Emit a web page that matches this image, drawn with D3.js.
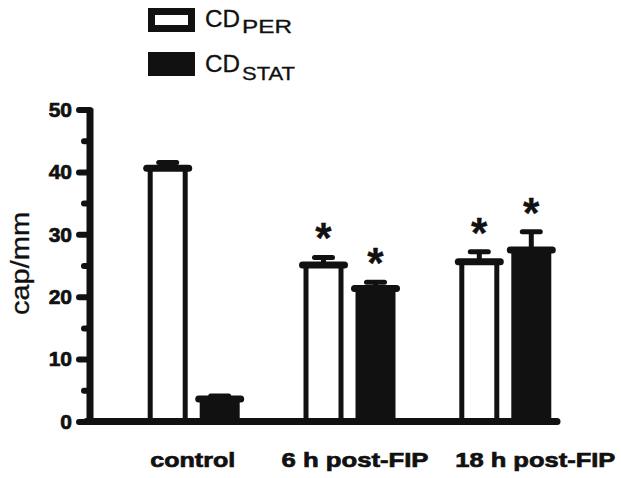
<!DOCTYPE html>
<html lang="en">
<head>
    <meta charset="UTF-8">
    <title>cap/mm bar chart</title>
    <script src="https://d3js.org/d3.v7.min.js"></script>
    <style>
        body { margin: 0; background: #fff; }
        text { font-family: "Liberation Sans", Arial, sans-serif; fill: #111; }
        .heavy { stroke: #111; stroke-width: 0.7px; }
        .soft { stroke: #111; stroke-width: 0.3px; }
    </style>
</head>
<body>
    <svg id="chart" width="621" height="478"></svg>
    <script>
        // data
        const groups = ["control", "6 h post-FIP", "18 h post-FIP"];
        const series = ["PER", "STAT"];
        const perMean = [40.6, 25.1, 25.6];
        const perErr = [0.9, 1.2, 1.6];
        const statMean = [3.6, 21.3, 27.5];
        const statErr = [0.5, 1.0, 2.9];
        const perStar = [false, true, true];
        const statStar = [false, true, true];
        const yTicks = [0, 10, 20, 30, 40, 50];
        const yMinor = [5, 15, 25, 35, 45];

        const ink = "#111";
        const svg = d3.select("#chart");

        // scales
        const y = d3.scaleLinear().domain([0, 50]).range([421.5, 109.5]);
        const x0 = d3.scaleBand().domain(groups).range([115.8, 583.2]).padding(0);
        const x1 = d3.scaleBand().domain(series)
            .range([x0.bandwidth() / 2 - 52, x0.bandwidth() / 2 + 52]);
        const barW = 40;

        const bars = [];
        groups.forEach((g, i) => {
            bars.push({g, s: "PER", v: perMean[i], e: perErr[i], star: perStar[i]});
            bars.push({g, s: "STAT", v: statMean[i], e: statErr[i], star: statStar[i]});
        });
        const cx = d => x0(d.g) + x1(d.s) + x1.bandwidth() / 2;

        // axes
        const axisX = 90;
        const yAxis = svg.append("g").attr("transform", `translate(${axisX},0)`)
            .call(d3.axisLeft(y).tickValues(yTicks).tickSize(11).tickPadding(8));
        yAxis.select(".domain").remove();
        yAxis.selectAll(".tick line")
            .attr("stroke", ink).attr("stroke-width", 6).attr("stroke-linecap", "round");
        yAxis.selectAll(".tick text")
            .attr("class", "heavy")
            .attr("font-size", 21).attr("font-weight", "bold")
            .attr("fill", ink).attr("x", -18);

        const yMinorAxis = svg.append("g").attr("transform", `translate(${axisX},0)`)
            .call(d3.axisLeft(y).tickValues(yMinor).tickSize(6).tickFormat(""));
        yMinorAxis.select(".domain").remove();
        yMinorAxis.selectAll(".tick line")
            .attr("stroke", ink).attr("stroke-width", 6).attr("stroke-linecap", "round");

        svg.append("line")
            .attr("x1", axisX).attr("x2", axisX)
            .attr("y1", y(50) - 1).attr("y2", y(0))
            .attr("stroke", ink).attr("stroke-width", 7);

        // bars
        const gBars = svg.append("g");
        gBars.selectAll("rect").data(bars).join("rect")
            .attr("x", d => cx(d) - barW / 2 + 2.5)
            .attr("y", d => y(d.v))
            .attr("width", barW - 5)
            .attr("height", d => y(0) - y(d.v))
            .attr("fill", d => d.s === "PER" ? "#fff" : ink)
            .attr("stroke", ink).attr("stroke-width", 5);

        // thick top edge
        gBars.selectAll("line.top").data(bars).join("line")
            .attr("class", "top")
            .attr("x1", d => cx(d) - barW / 2 - 1).attr("x2", d => cx(d) + barW / 2 + 1)
            .attr("y1", d => y(d.v)).attr("y2", d => y(d.v))
            .attr("stroke", ink).attr("stroke-width", 7).attr("stroke-linecap", "round");

        // error bars
        gBars.selectAll("line.stem").data(bars).join("line")
            .attr("class", "stem")
            .attr("x1", cx).attr("x2", cx)
            .attr("y1", d => y(d.v)).attr("y2", d => y(d.v + d.e))
            .attr("stroke", ink).attr("stroke-width", 5);
        gBars.selectAll("line.cap").data(bars).join("line")
            .attr("class", "cap")
            .attr("x1", d => cx(d) - 9).attr("x2", d => cx(d) + 9)
            .attr("y1", d => y(d.v + d.e)).attr("y2", d => y(d.v + d.e))
            .attr("stroke", ink).attr("stroke-width", 5).attr("stroke-linecap", "round");

        // asterisks
        gBars.selectAll("text.star").data(bars.filter(d => d.star)).join("text")
            .attr("class", "star soft")
            .attr("x", cx)
            .attr("y", d => y(d.v + d.e) - 26 + 21)
            .attr("text-anchor", "middle")
            .attr("font-size", 42).attr("font-weight", "bold")
            .text("*");

        // x axis line
        svg.append("line")
            .attr("x1", axisX - 3.5).attr("x2", 557)
            .attr("y1", y(0)).attr("y2", y(0))
            .attr("stroke", ink).attr("stroke-width", 7).attr("stroke-linecap", "round");

        // group labels
        const labelDx = [-1, 5.5, 30];
        const labelLen = [85, 147, 160];
        svg.append("g").selectAll("text").data(groups).join("text")
            .attr("class", "heavy")
            .attr("x", (d, i) => x0(d) + x0.bandwidth() / 2 + labelDx[i])
            .attr("y", 466.5)
            .attr("text-anchor", "middle")
            .attr("font-size", 21).attr("font-weight", "bold")
            .attr("textLength", (d, i) => labelLen[i])
            .attr("lengthAdjust", "spacingAndGlyphs")
            .text(d => d);

        // y label
        svg.append("text")
            .attr("class", "soft")
            .attr("transform", "translate(28.5,263.5) rotate(-90)")
            .attr("text-anchor", "middle")
            .attr("font-size", 25)
            .attr("textLength", 103)
            .attr("lengthAdjust", "spacingAndGlyphs")
            .text("cap/mm");

        // legend
        const legend = svg.append("g");
        const legendRows = [
            {key: "PER", fill: "#fff", top: 8, base: 26.7, subBase: 33.3, subLen: 50},
            {key: "STAT", fill: ink, top: 52, base: 71.7, subBase: 80, subLen: 53}
        ];
        legendRows.forEach(r => {
            legend.append("rect")
                .attr("x", 151.5).attr("y", r.top + 3.5)
                .attr("width", 40).attr("height", 17)
                .attr("fill", r.fill).attr("stroke", ink).attr("stroke-width", 7);
            legend.append("text")
                .attr("class", "soft")
                .attr("x", 205).attr("y", r.base)
                .attr("font-size", 24)
                .attr("textLength", 35)
                .attr("lengthAdjust", "spacingAndGlyphs")
                .text("CD");
            legend.append("text")
                .attr("class", "soft")
                .attr("x", 242).attr("y", r.subBase)
                .attr("font-size", 18)
                .attr("textLength", r.subLen)
                .attr("lengthAdjust", "spacingAndGlyphs")
                .text(r.key);
        });
    </script>
</body>
</html>
